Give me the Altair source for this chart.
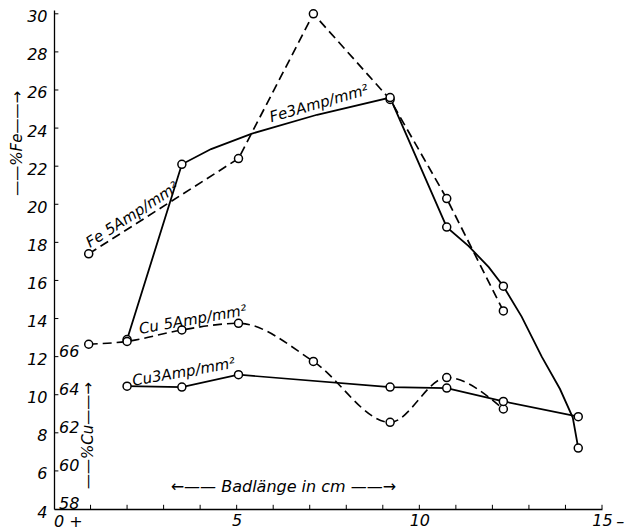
import altair as alt
import pandas as pd

# ---- data (x in cm, Fe in %, Cu in %) ----
fe5_x = [0.95, 5.05, 7.1, 9.2, 10.75, 12.3]
fe5_y = [17.4, 22.4, 30.0, 25.5, 20.3, 14.4]

fe3_x = [2.0, 3.5, 9.2, 10.75, 12.3, 14.35]
fe3_y = [12.9, 22.1, 25.6, 18.8, 15.7, 7.2]
# course of the drawn Fe 3 A curve
fe3_curve_x = [2.0, 3.5, 4.3, 5.4, 7.2, 9.2, 10.75, 11.35, 11.9, 12.3, 12.8, 13.35, 13.85, 14.2, 14.35]
fe3_curve_y = [12.9, 22.1, 22.9, 23.7, 24.7, 25.6, 18.8, 17.8, 16.7, 15.7, 14.1, 12.0, 10.3, 8.8, 7.2]

cu5_x = [0.95, 2.0, 3.5, 5.05, 7.1, 9.2, 10.75, 12.3]
cu5_pct = [66.65, 66.8, 67.4, 67.75, 65.75, 62.55, 64.9, 63.25]

cu3_x = [2.0, 3.5, 5.05, 9.2, 10.75, 12.3, 14.35]
cu3_pct = [64.45, 64.4, 65.05, 64.4, 64.35, 63.65, 62.85]

CU_OFFSET = 54  # Cu scale 58..66 drawn against Fe scale 4..12
fe_ticks = list(range(4, 31, 2))
cu_ticks = [58, 60, 62, 64, 66]
x_label_ticks = [5, 10, 15]
x_minor_ticks = list(range(1, 16))
y_minor_ticks = list(range(6, 31, 2))

series_labels = ["Fe 5Amp/mm²", "Fe3Amp/mm²", "Cu 5Amp/mm²", "Cu3Amp/mm²"]

# ---- annotation placement ----
lab_x = [2.14, 7.25, 3.8, 3.55]
lab_y = [19.45, 25.3, 13.95, 11.2]
lab_angle = [327, 344, 350, 350]

FONT = "DejaVu Sans"
XS = alt.Scale(domain=[0, 15], nice=False, zero=False)
YS = alt.Scale(domain=[4, 30.2], nice=False, zero=False)
XA = alt.Axis(values=x_label_ticks, ticks=False, grid=False, title=None,
              labelFont=FONT, labelFontSize=16, labelFontStyle="italic",
              labelColor="black", labelPadding=3, domainColor="black",
              domainWidth=1.3, labelFlush=False)
YA = alt.Axis(values=fe_ticks, ticks=False, grid=False, title=None,
              labelFont=FONT, labelFontSize=16, labelFontStyle="italic",
              labelColor="black", labelPadding=7, labelOffset=3, domainColor="black",
              domainWidth=1.3, labelFlush=False)


def X(f):
    return alt.X(f, type="quantitative", scale=XS, axis=XA)


def Y(f):
    return alt.Y(f, type="quantitative", scale=YS, axis=YA)


fe5 = pd.DataFrame({"x": fe5_x, "y": fe5_y})
fe3c = pd.DataFrame({"x": fe3_curve_x, "y": fe3_curve_y})
cu5 = pd.DataFrame({"x": cu5_x, "cu": cu5_pct})
cu3 = pd.DataFrame({"x": cu3_x, "cu": cu3_pct})
pts = pd.concat([
    pd.DataFrame({"x": fe5_x, "y": fe5_y}),
    pd.DataFrame({"x": fe3_x, "y": fe3_y}),
    pd.DataFrame({"x": cu5_x, "y": [c - CU_OFFSET for c in cu5_pct]}),
    pd.DataFrame({"x": cu3_x, "y": [c - CU_OFFSET for c in cu3_pct]}),
])

xt = pd.DataFrame({"x": x_minor_ticks})
yt = pd.DataFrame({"y": y_minor_ticks})

x_ticks = alt.Chart(xt).mark_rule(color="black", strokeWidth=1).encode(
    x=X("x"), y=alt.Y(datum=4, type="quantitative", scale=YS, axis=YA),
    y2=alt.Y2(datum=4.22))
y_ticks = alt.Chart(yt).mark_rule(color="black", strokeWidth=1).encode(
    y=Y("y"), x=alt.X(datum=0, type="quantitative", scale=XS, axis=XA),
    x2=alt.X2(datum=0.12))

fe5_line = alt.Chart(fe5).mark_line(color="black", strokeWidth=1.7, strokeDash=[9, 5]).encode(
    x=X("x"), y=Y("y"), order="x:Q")
fe3_line = alt.Chart(fe3c).mark_line(color="black", strokeWidth=1.8).encode(
    x=X("x"), y=Y("y"), order="x:Q")
cu5_line = alt.Chart(cu5).transform_calculate(y=f"datum.cu - {CU_OFFSET}").mark_line(
    color="black", strokeWidth=1.6, strokeDash=[9, 5], interpolate="monotone").encode(
    x=X("x"), y=Y("y"), order="x:Q")
cu3_line = alt.Chart(cu3).transform_calculate(y=f"datum.cu - {CU_OFFSET}").mark_line(
    color="black", strokeWidth=1.7).encode(
    x=X("x"), y=Y("y"), order="x:Q")

points = alt.Chart(pts).mark_point(shape="circle", filled=True, fill="white",
                                    stroke="black", strokeWidth=1.5, size=64, opacity=1).encode(
    x=X("x"), y=Y("y"))

lab = pd.DataFrame({"t": series_labels, "x": lab_x, "y": lab_y, "a": lab_angle})
labels = alt.Chart(lab).mark_text(font=FONT, fontSize=15, fontStyle="italic",
                                  align="center", baseline="middle", color="black").encode(
    x=X("x"), y=Y("y"), text="t:N", angle=alt.Angle("a:Q", scale=None))

cu_df = pd.DataFrame({"cu": cu_ticks})
cu_labels = alt.Chart(cu_df).transform_calculate(y=f"datum.cu - {CU_OFFSET}").mark_text(
    font=FONT, fontSize=16, fontStyle="italic", align="left", baseline="middle",
    dx=0, dy=-5, color="black").encode(
    x=alt.value(5), y=Y("y"), text="cu:N")

titles = pd.DataFrame({
    "t": ["——%Fe——→", "——%Cu——→"],
    "y": [23.2, 7.85],
    "px": [-37, 34],
})
vtitles = alt.Chart(titles).mark_text(font=FONT, fontSize=15, fontStyle="italic",
                                      align="center", baseline="middle", angle=270,
                                      color="black").encode(
    x=alt.X("px:Q", scale=None), y=Y("y"), text="t:N")

xtitle_df = pd.DataFrame({"t": ["←—— Badlänge in cm ——→"], "x": [6.28], "y": [5.15]})
xtitle = alt.Chart(xtitle_df).mark_text(font=FONT, fontSize=16, fontStyle="italic",
                                        align="center", baseline="middle", color="black").encode(
    x=X("x"), y=Y("y"), text="t:N")

# the "0 +" at the origin and the "–" after 15, as printed on the axis
marks_df = pd.DataFrame({"t": ["0 +", "–"], "x": [0.0, 15.5], "y": [4, 4]})
origin_mark = alt.Chart(marks_df.iloc[[0]]).mark_text(
    font=FONT, fontSize=16, fontStyle="italic", align="left", baseline="middle",
    dx=0, dy=13, color="black").encode(x=X("x"), y=Y("y"), text="t:N")
end_mark = alt.Chart(marks_df.iloc[[1]]).mark_text(
    font=FONT, fontSize=16, fontStyle="italic", align="center", baseline="middle",
    dy=13, color="black").encode(x=X("x"), y=Y("y"), text="t:N")

chart = alt.layer(
    x_ticks, y_ticks, fe5_line, fe3_line, cu5_line, cu3_line, points,
    labels, cu_labels, vtitles, xtitle, origin_mark, end_mark
).properties(
    width=548, height=499,
    autosize=alt.AutoSizeParams(type="none"),
    padding={"left": 46, "top": 2, "right": 25, "bottom": 22},
    background="white",
).configure_view(stroke=None)

chart.save("out.html", embed_options={"renderer": "svg", "actions": False})
